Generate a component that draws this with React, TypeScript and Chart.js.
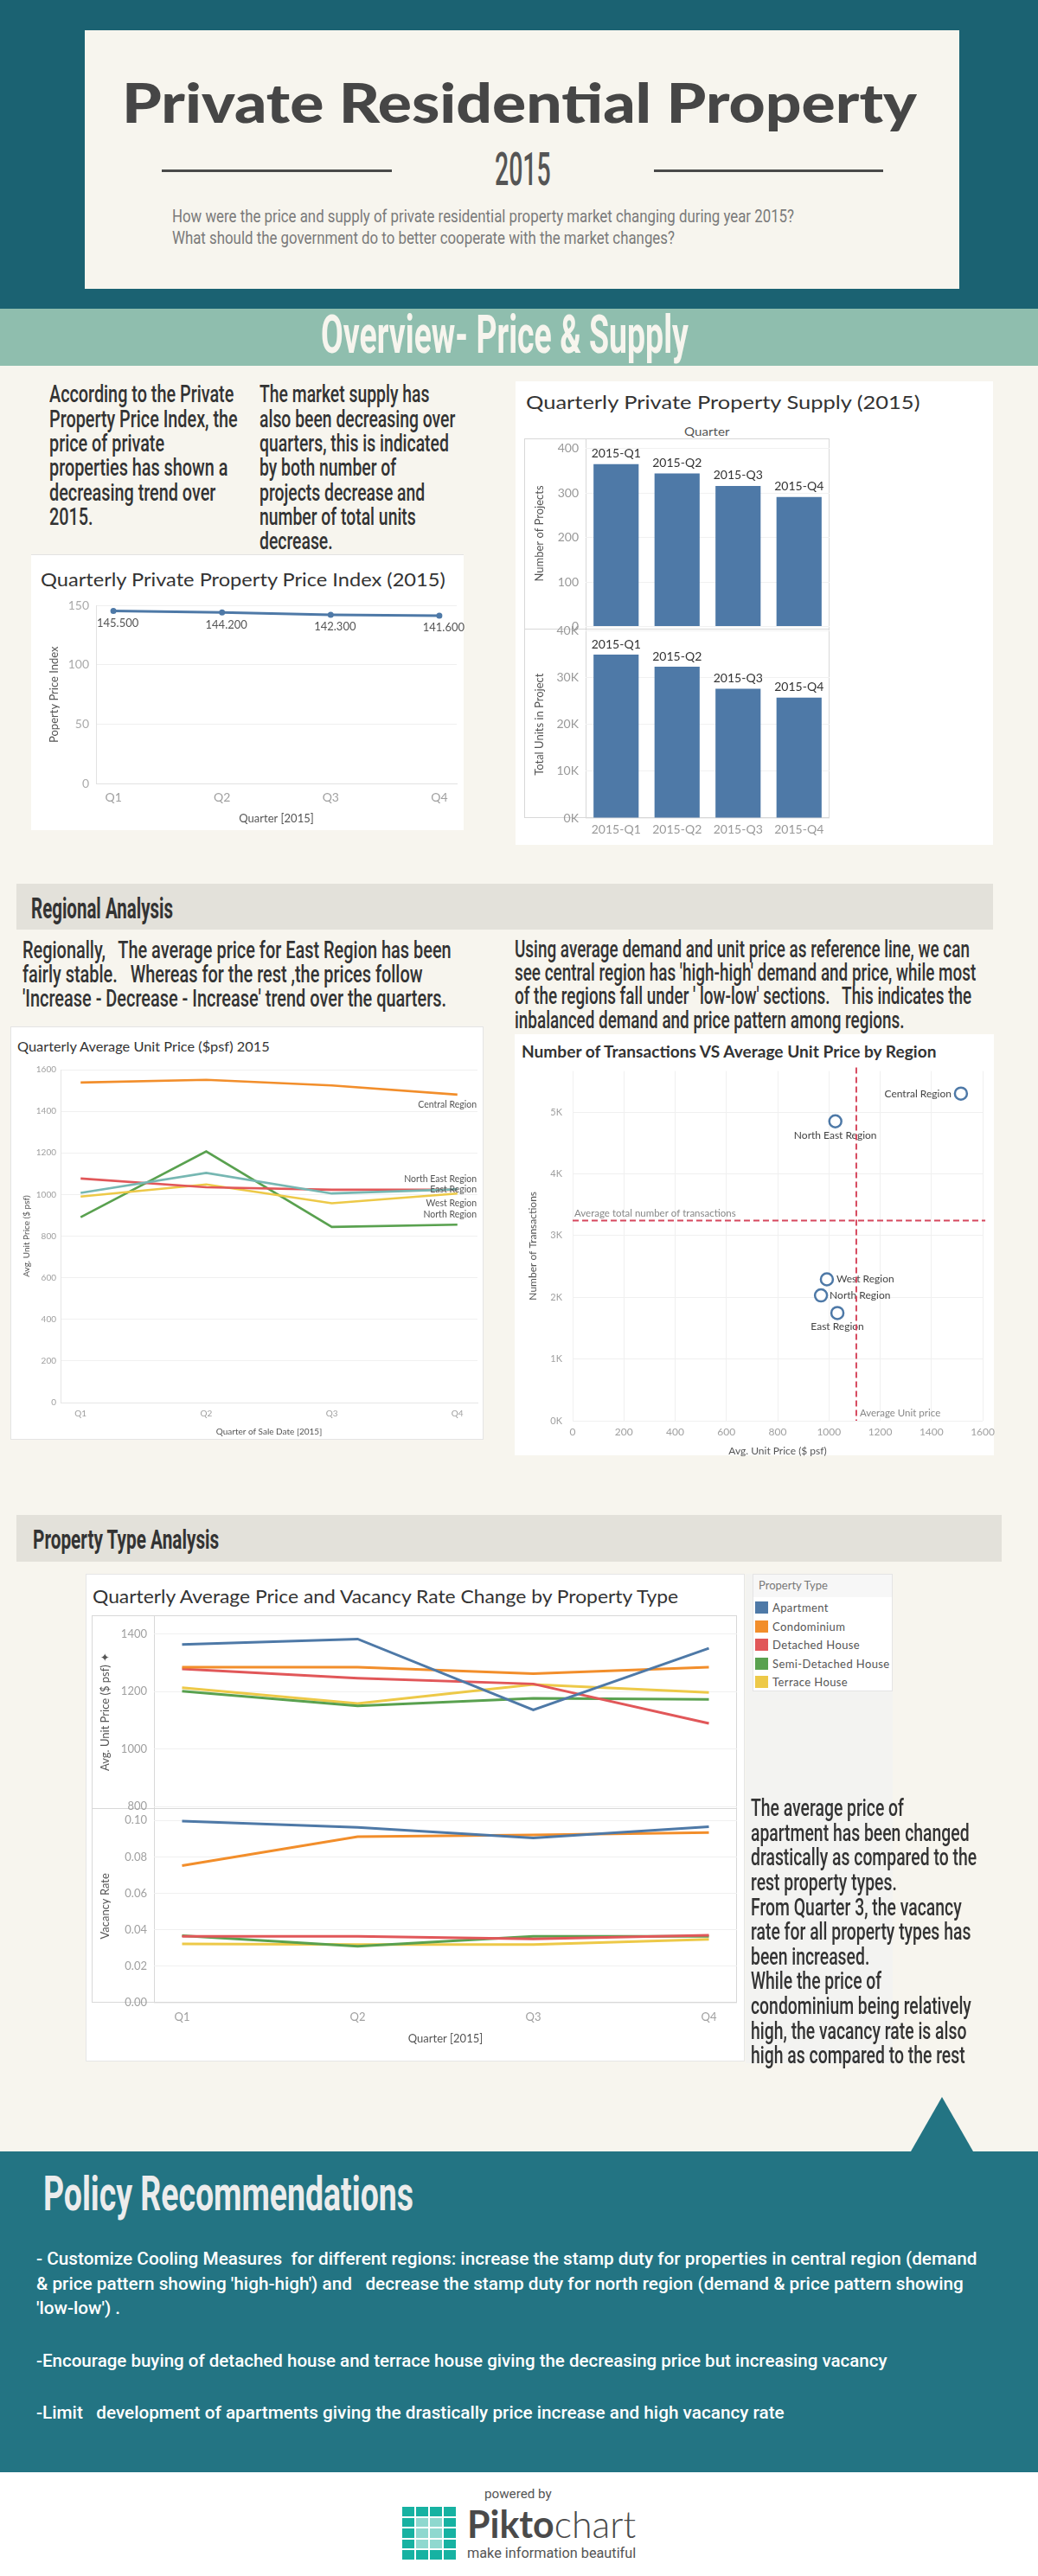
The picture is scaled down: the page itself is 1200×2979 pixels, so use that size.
import React, { useEffect, useLayoutEffect, useRef, useState } from 'react';
import { Chart, registerables } from 'chart.js';
Chart.register(...registerables);

// ---------------- DATA ----------------
const quarters = ['Q1', 'Q2', 'Q3', 'Q4'];
const priceIndex = [145.5, 144.2, 142.3, 141.6];
const priceIndexTicks = [0, 50, 100, 150];

const supplyQuarters = ['2015-Q1', '2015-Q2', '2015-Q3', '2015-Q4'];
const projectCounts = [365, 344, 316, 291];
const totalUnits = [34900, 32300, 27600, 25700];
const projectTicks = [0, 100, 200, 300, 400];
const unitTicks = [0, 10000, 20000, 30000, 40000];

const regionNames = ['Central Region', 'North East Region', 'East Region', 'West Region', 'North Region'];
const regionColors = ['#f28e2b', '#76b7b2', '#e15759', '#edc948', '#59a14f'];
const centralPrice = [1538, 1551, 1524, 1480];
const northEastPrice = [1008, 1104, 1005, 1025];
const eastPrice = [1077, 1035, 1023, 1023];
const westPrice = [990, 1048, 958, 1005];
const northPrice = [891, 1207, 844, 855];
const regionSeries = [centralPrice, northEastPrice, eastPrice, westPrice, northPrice];
const regionPriceTicks = [0, 200, 400, 600, 800, 1000, 1200, 1400, 1600];

const scatterRegions = ['Central Region', 'North East Region', 'West Region', 'North Region', 'East Region'];
const scatterAvgPrice = [1515, 1025, 992, 969, 1033];
const scatterTransactions = [5300, 4850, 2290, 2030, 1745];
const transactionTicks = [0, 1000, 2000, 3000, 4000, 5000];
const scatterPriceTicks = [0, 200, 400, 600, 800, 1000, 1200, 1400, 1600];

const propertyTypes = ['Apartment', 'Condominium', 'Detached House', 'Semi-Detached House', 'Terrace House'];
const typeColors = ['#4e79a7', '#f28e2b', '#e15759', '#59a14f', '#edc948'];
const apartmentPrice = [1363, 1382, 1136, 1350];
const condoPrice = [1284, 1284, 1262, 1284];
const detachedPrice = [1278, 1246, 1226, 1089];
const semiPrice = [1201, 1150, 1176, 1172];
const terracePrice = [1213, 1158, 1224, 1196];
const typePrices = [apartmentPrice, condoPrice, detachedPrice, semiPrice, terracePrice];
const apartmentVacancy = [0.0996, 0.0962, 0.0904, 0.0966];
const condoVacancy = [0.0752, 0.0911, 0.0921, 0.0933];
const detachedVacancy = [0.0364, 0.0364, 0.035, 0.037];
const semiVacancy = [0.0368, 0.031, 0.0364, 0.0364];
const terraceVacancy = [0.0323, 0.0319, 0.0319, 0.0348];
const typeVacancies = [apartmentVacancy, condoVacancy, detachedVacancy, semiVacancy, terraceVacancy];
const typePriceTicks = [800, 1000, 1200, 1400];
const vacancyTicks = [0, 0.02, 0.04, 0.06, 0.08, 0.1];

// ---------------- STYLE ----------------
const BLUE = '#4e79a7';
const FONT = 'Lato, "Open Sans", sans-serif';
const COND = 'Roboto, "Liberation Sans", sans-serif';
const X_MIN = 0.84;
const X_MAX = 4.16;
Chart.defaults.font.family = FONT;

const mean = (a: number[]) => a.reduce((s, v) => s + v, 0) / a.length;

function forceTicks(values: number[]) {
  return (s: any) => {
    s.ticks = values.map((v) => ({ value: v }));
  };
}

function quarterAxis(size: number, pad: number, title: any, borderColor?: string) {
  return {
    type: 'linear',
    min: X_MIN,
    max: X_MAX,
    afterBuildTicks: forceTicks(quarters.map((_, i) => i + 1)),
    ticks: {
      callback: (v: number) => quarters[Math.round(v) - 1] ?? '',
      color: '#a0a0a0',
      font: { size },
      padding: pad,
      maxRotation: 0,
      autoSkip: false,
    },
    grid: { display: false, drawTicks: false },
    border: borderColor ? { display: true, color: borderColor } : { display: false },
    title,
  };
}

type Plot = { l: number; t: number; r: number; b: number };

function ChartCanvas({ plot, yW, xH, build }: { plot: Plot; yW: number; xH: number; build: () => any }) {
  const ref = useRef<HTMLCanvasElement>(null);
  const P = 14;
  const left = plot.l - yW;
  const top = plot.t - P;
  const width = Math.round(plot.r + P - left);
  const height = Math.round(plot.b + (xH > 0 ? xH : P) - top);
  useEffect(() => {
    const cfg = build();
    cfg.options = cfg.options || {};
    cfg.options.animation = false;
    cfg.options.responsive = false;
    cfg.options.maintainAspectRatio = false;
    cfg.options.layout = { padding: { top: P, right: P, left: 0, bottom: xH > 0 ? 0 : P } };
    cfg.options.plugins = { ...(cfg.options.plugins || {}), legend: { display: false }, tooltip: { enabled: false } };
    const sc = cfg.options.scales;
    sc.y.afterFit = (s: any) => {
      s.width = yW;
    };
    if (xH > 0) {
      sc.x.afterFit = (s: any) => {
        s.height = xH;
      };
    }
    const chart = new Chart(ref.current as HTMLCanvasElement, cfg);
    return () => chart.destroy();
  }, []);
  return (
    <canvas
      ref={ref}
      width={width}
      height={height}
      style={{ position: 'absolute', left, top, width, height }}
    />
  );
}

function FitText({
  x, y, w, size, lh, lines, color = '#333', weight = 400, family = COND, align = 'left',
}: {
  x: number; y: number; w: number; size: number; lh?: number; lines: React.ReactNode[];
  color?: string; weight?: number; family?: string; align?: 'left' | 'center';
}) {
  const ref = useRef<HTMLDivElement>(null);
  const [m, setM] = useState<{ s: number; W: number } | null>(null);
  useLayoutEffect(() => {
    const el = ref.current;
    if (!el) return;
    let W = 0;
    el.querySelectorAll<HTMLElement>('span.ln').forEach((s) => {
      W = Math.max(W, s.offsetWidth);
    });
    setM({ s: W ? w / W : 1, W });
  }, []);
  const L = lh ?? Math.round(size * 1.2);
  const s = m ? m.s : 1;
  const W = m ? m.W : 0;
  const left = align === 'center' ? x - (W * s) / 2 : x;
  return (
    <div
      ref={ref}
      style={{
        position: 'absolute', left, top: y - L / 2, transform: `scaleX(${s})`, transformOrigin: 'left top',
        fontFamily: family, fontSize: size, fontWeight: weight, color, lineHeight: `${L}px`,
        whiteSpace: 'pre', visibility: m ? 'visible' : 'hidden',
      }}
    >
      {lines.map((t, i) => (
        <div key={i}>
          <span className="ln">{t}</span>
        </div>
      ))}
    </div>
  );
}

function Rect({ x, y, w, h, bg, style }: { x: number; y: number; w: number; h: number; bg?: string; style?: any }) {
  return <div style={{ position: 'absolute', left: x, top: y, width: w, height: h, background: bg, boxSizing: 'border-box', ...style }} />;
}

// ---------------- CHART BUILDERS ----------------
function buildPriceIndex() {
  const valueLabels = {
    id: 'valueLabels',
    afterDatasetsDraw(chart: any) {
      const ctx = chart.ctx;
      const meta = chart.getDatasetMeta(0);
      ctx.save();
      ctx.font = `13px ${FONT}`;
      ctx.fillStyle = '#555';
      ctx.textAlign = 'center';
      ctx.textBaseline = 'middle';
      meta.data.forEach((pt: any, i: number) => ctx.fillText(priceIndex[i].toFixed(3), pt.x + 5, pt.y + 14));
      ctx.restore();
    },
  };
  return {
    type: 'line',
    data: {
      datasets: [{
        data: priceIndex.map((v, i) => ({ x: i + 1, y: v })),
        borderColor: BLUE, backgroundColor: BLUE, borderWidth: 3, pointRadius: 3.5,
        pointBackgroundColor: BLUE, pointBorderWidth: 0, tension: 0,
      }],
    },
    options: {
      scales: {
        x: quarterAxis(14, 8, { display: true, text: 'Quarter [2015]', color: '#555', font: { size: 13 }, padding: { bottom: 5 } }, '#e2e2e2'),
        y: {
          type: 'linear', min: 0, max: 150,
          afterBuildTicks: forceTicks(priceIndexTicks),
          ticks: { color: '#aaa', font: { size: 14 }, padding: 8, callback: (v: number) => String(v) },
          grid: { color: '#efefef', drawTicks: false },
          border: { display: true, color: '#e2e2e2' },
          title: { display: true, text: 'Poperty Price Index', color: '#555', font: { size: 13 }, padding: { top: 15 } },
        },
      },
    },
    plugins: [valueLabels],
  };
}

const barLabels = {
  id: 'barLabels',
  afterDatasetsDraw(chart: any) {
    const ctx = chart.ctx;
    const meta = chart.getDatasetMeta(0);
    ctx.save();
    ctx.font = `14px ${FONT}`;
    ctx.fillStyle = '#333';
    ctx.textAlign = 'center';
    ctx.textBaseline = 'middle';
    meta.data.forEach((b: any, i: number) => ctx.fillText(supplyQuarters[i], b.x, b.y - 12));
    ctx.restore();
  },
};

function buildSupply(values: number[], max: number, ticks: number[], title: string, showX: boolean, fmt: (v: number) => string) {
  return {
    type: 'bar',
    data: {
      labels: supplyQuarters,
      datasets: [{ data: values, backgroundColor: BLUE, barPercentage: 0.74, categoryPercentage: 1 }],
    },
    options: {
      scales: {
        x: showX
          ? { type: 'category', offset: true, ticks: { color: '#999', font: { size: 14 }, padding: 5 }, grid: { display: false, drawTicks: false }, border: { display: false } }
          : { type: 'category', offset: true, display: false },
        y: {
          type: 'linear', min: 0, max,
          afterBuildTicks: forceTicks(ticks),
          ticks: { color: '#999', font: { size: 14 }, padding: 8, callback: (v: number) => fmt(v) },
          grid: { color: '#f1f1f1', drawTicks: false },
          border: { display: false },
          title: { display: true, text: title, color: '#555', font: { size: 13 }, padding: { top: 10 } },
        },
      },
    },
    plugins: [barLabels],
  };
}

function buildRegional() {
  const shift: Record<string, number> = {
    'Central Region': 11.5, 'North East Region': -12, 'East Region': 0, 'West Region': 11.5, 'North Region': -11.5,
  };
  const endLabels = {
    id: 'endLabels',
    afterDatasetsDraw(chart: any) {
      const ctx = chart.ctx;
      ctx.save();
      ctx.font = `10.5px ${FONT}`;
      ctx.fillStyle = '#555';
      ctx.textAlign = 'right';
      ctx.textBaseline = 'middle';
      chart.data.datasets.forEach((ds: any, i: number) => {
        const meta = chart.getDatasetMeta(i);
        const last = meta.data[meta.data.length - 1];
        ctx.fillText(ds.label, chart.chartArea.right - 1, last.y + (shift[ds.label] ?? 0));
      });
      ctx.restore();
    },
  };
  return {
    type: 'line',
    data: {
      datasets: regionNames.map((name, k) => ({
        label: name,
        data: regionSeries[k].map((v, i) => ({ x: i + 1, y: v })),
        borderColor: regionColors[k], backgroundColor: regionColors[k], borderWidth: 2.6, pointRadius: 0, tension: 0,
      })),
    },
    options: {
      scales: {
        x: quarterAxis(10, 7, { display: true, text: 'Quarter of Sale Date [2015]', color: '#555', font: { size: 10 }, padding: { bottom: 3 } }, '#e6e6e6'),
        y: {
          type: 'linear', min: 0, max: 1600,
          afterBuildTicks: forceTicks(regionPriceTicks),
          ticks: { color: '#a0a0a0', font: { size: 10 }, padding: 5, callback: (v: number) => String(v) },
          grid: { color: '#f0f0f0', drawTicks: false },
          border: { display: true, color: '#e6e6e6' },
          title: { display: true, text: 'Avg. Unit Price ($ psf)', color: '#555', font: { size: 10 }, padding: { top: 10 } },
        },
      },
    },
    plugins: [endLabels],
  };
}

function buildScatter() {
  const avgPrice = mean(scatterAvgPrice);
  const avgTrans = mean(scatterTransactions);
  const place: Record<string, [CanvasTextAlign, number, number]> = {
    'Central Region': ['right', -11, 0],
    'North East Region': ['center', 0, 16],
    'West Region': ['left', 11, 0],
    'North Region': ['left', 10, 0],
    'East Region': ['center', 0, 16],
  };
  const overlay = {
    id: 'overlay',
    afterDatasetsDraw(chart: any) {
      const ctx = chart.ctx;
      const { left, right, top, bottom } = chart.chartArea;
      const xs = chart.scales.x;
      const ys = chart.scales.y;
      const meta = chart.getDatasetMeta(0);
      ctx.save();
      ctx.font = `12px ${FONT}`;
      ctx.fillStyle = '#444';
      ctx.textBaseline = 'middle';
      meta.data.forEach((pt: any, i: number) => {
        const [al, dx, dy] = place[scatterRegions[i]];
        ctx.textAlign = al;
        ctx.fillText(scatterRegions[i], pt.x + dx, pt.y + dy);
      });
      const px = xs.getPixelForValue(avgPrice);
      const py = ys.getPixelForValue(avgTrans);
      ctx.fillStyle = '#888';
      ctx.font = `11.5px ${FONT}`;
      ctx.textAlign = 'left';
      ctx.fillText('Average total number of transactions', left + 2, py - 8);
      ctx.fillText('Average Unit price', px + 4, bottom - 9);
      ctx.strokeStyle = '#d6485e';
      ctx.lineWidth = 2;
      ctx.setLineDash([7, 4]);
      ctx.beginPath();
      ctx.moveTo(left, py);
      ctx.lineTo(right + 3, py);
      ctx.moveTo(px, top - 4);
      ctx.lineTo(px, bottom);
      ctx.stroke();
      ctx.restore();
    },
  };
  return {
    type: 'scatter',
    data: {
      datasets: [{
        data: scatterAvgPrice.map((p, i) => ({ x: p, y: scatterTransactions[i] })),
        pointRadius: 7, pointBorderWidth: 2.5, borderColor: BLUE, pointBorderColor: BLUE,
        backgroundColor: 'rgba(255,255,255,0.9)', pointBackgroundColor: 'rgba(255,255,255,0.9)',
      }],
    },
    options: {
      scales: {
        x: {
          type: 'linear', min: 0, max: 1600,
          afterBuildTicks: forceTicks(scatterPriceTicks),
          ticks: { color: '#a0a0a0', font: { size: 12 }, padding: 6, callback: (v: number) => String(v) },
          grid: { color: '#f0f0f0', drawTicks: false },
          border: { display: false },
          title: { display: true, text: 'Avg. Unit Price ($ psf)', color: '#555', font: { size: 12 }, padding: { bottom: 1 } },
        },
        y: {
          type: 'linear', min: 0, max: 5665,
          afterBuildTicks: forceTicks(transactionTicks),
          ticks: { color: '#a0a0a0', font: { size: 11 }, padding: 12, callback: (v: number) => `${v / 1000}K` },
          grid: { color: '#f0f0f0', drawTicks: false },
          border: { display: false },
          title: { display: true, text: 'Number of Transactions', color: '#555', font: { size: 12 }, padding: { top: 2 } },
        },
      },
    },
    plugins: [overlay],
  };
}

function buildType(series: number[][], min: number, max: number, ticks: number[], title: string, showX: boolean, fmt: (v: number) => string) {
  const xAxis = showX
    ? quarterAxis(13, 9, { display: true, text: 'Quarter [2015]', color: '#555', font: { size: 13 }, padding: { bottom: 18 } })
    : { ...quarterAxis(13, 9, { display: false }), display: false };
  return {
    type: 'line',
    data: {
      datasets: propertyTypes.map((name, k) => ({
        label: name,
        data: series[k].map((v, i) => ({ x: i + 1, y: v })),
        borderColor: typeColors[k], backgroundColor: typeColors[k], borderWidth: 3, pointRadius: 0, tension: 0,
      })),
    },
    options: {
      scales: {
        x: xAxis,
        y: {
          type: 'linear', min, max,
          afterBuildTicks: forceTicks(ticks),
          ticks: { color: '#a0a0a0', font: { size: 13 }, padding: 8, callback: (v: number) => fmt(v) },
          grid: { color: '#f0f0f0', drawTicks: false },
          border: { display: false },
          title: { display: true, text: title, color: '#555', font: { size: 13 }, padding: { top: 8 } },
        },
      },
    },
  };
}

// ---------------- APP ----------------
const HEADER_TEAL = '#1b6272';
const POLICY_TEAL = '#237483';
const CREAM = '#f7f5ee';
const BAND = '#e3e1da';

function Legend() {
  return (
    <>
      <Rect x={870} y={1820} w={162} h={136} bg="#fff" style={{ border: '1px solid #e4e4e4' }} />
      <Rect x={871} y={1821} w={160} h={26} bg="#f7f7f7" />
      <div style={{ position: 'absolute', left: 877, top: 1825, fontFamily: FONT, fontSize: 13, color: '#777', lineHeight: '17px' }}>Property Type</div>
      {propertyTypes.map((t, i) => (
        <React.Fragment key={t}>
          <Rect x={873} y={1852 + i * 21.5} w={15} h={14} bg={typeColors[i]} />
          <div style={{ position: 'absolute', left: 893, top: 1850 + i * 21.5, fontFamily: FONT, fontSize: 13, color: '#555', lineHeight: '18px', letterSpacing: 0.4 }}>{t}</div>
        </React.Fragment>
      ))}
    </>
  );
}

function Logo() {
  const cells: React.ReactNode[] = [];
  for (let r = 0; r < 5; r++) {
    for (let c = 0; c < 4; c++) {
      const inner = (c === 1 || c === 2) && r > 0 && r < 4;
      cells.push(
        <Rect key={`${r}-${c}`} x={465 + c * 16} y={2899 + r * 12.6} w={14} h={10.6} bg={inner ? '#8fd8cf' : '#17b2a2'} />,
      );
    }
  }
  return <>{cells}</>;
}

export default function App() {
  useEffect(() => {
    document.body.style.margin = '0';
  }, []);
  return (
    <div style={{ position: 'absolute', left: 0, top: 0, width: 1200, height: 2979, background: CREAM, overflow: 'hidden' }}>
      {/* Header */}
      <Rect x={0} y={0} w={1200} h={357} bg={HEADER_TEAL} />
      <Rect x={98} y={35} w={1011} h={299} bg={CREAM} />
      <FitText x={141} y={117.5} w={919} size={62} lh={62} weight={900} family={FONT} color="#464646" lines={['Private Residential Property']} />
      <FitText x={604.5} y={196} w={65} size={53} lh={53} weight={500} color="#555" align="center" lines={['2015']} />
      <Rect x={187} y={196} w={266} h={3} bg="#4a4a4a" />
      <Rect x={756} y={196} w={265} h={3} bg="#4a4a4a" />
      <FitText x={199} y={250.5} w={719} size={21} lh={25} color="#7a7a7a" lines={[
        'How were the price and supply of private residential property market changing during year 2015?',
        'What should the government do to better cooperate with the market changes?',
      ]} />

      {/* Overview band */}
      <Rect x={0} y={357} w={1200} h={66} bg="#8fbeae" />
      <FitText x={583} y={387} w={425} size={62} lh={62} weight={700} color={CREAM} align="center" lines={['Overview- Price & Supply']} />

      <FitText x={57} y={456.5} w={218} size={27} lh={28.3} weight={500} color="#333" lines={[
        'According to the Private', 'Property Price Index, the', 'price of private', 'properties has shown a', 'decreasing trend over', '2015.',
      ]} />
      <FitText x={300} y={456.5} w={226} size={27} lh={28.3} weight={500} color="#333" lines={[
        'The market supply has', 'also been decreasing over', 'quarters, this is indicated', 'by both number of', 'projects decrease and', 'number of total units', 'decrease.',
      ]} />

      {/* Price index card */}
      <Rect x={36} y={641} w={500} h={319} bg="#fff" style={{ borderTop: '1px solid #e2e2e2' }} />
      <FitText x={47} y={669} w={468} size={21} color="#333" family={FONT} lines={['Quarterly Private Property Price Index (2015)']} />
      <ChartCanvas plot={{ l: 111, t: 698, r: 528, b: 906 }} yW={71} xH={54} build={buildPriceIndex} />

      {/* Supply card */}
      <Rect x={596} y={441} w={552} h={536} bg="#fff" />
      <FitText x={608} y={465} w={455} size={22} color="#333" family={FONT} lines={['Quarterly Private Property Supply (2015)']} />
      <FitText x={817} y={498} w={52} size={14} color="#555" family={FONT} align="center" lines={['Quarter']} />
      <Rect x={606} y={507} w={353} h={439} style={{ border: '1px solid #d8d8d8' }} />
      <Rect x={677} y={507} w={1} h={439} bg="#d8d8d8" />
      <Rect x={606} y={727} w={353} h={1} bg="#d8d8d8" />
      <ChartCanvas plot={{ l: 677, t: 507, r: 959, b: 727 }} yW={71} xH={0}
        build={() => buildSupply(projectCounts, 418, projectTicks, 'Number of Projects', false, (v) => String(v))} />
      <ChartCanvas plot={{ l: 677, t: 727, r: 959, b: 946 }} yW={71} xH={26}
        build={() => buildSupply(totalUnits, 40000, unitTicks, 'Total Units in Project', true, (v) => `${v / 1000}K`)} />

      {/* Regional analysis */}
      <Rect x={19} y={1022} w={1129} h={53} bg={BAND} />
      <FitText x={36} y={1051} w={164} size={33} lh={36} weight={700} color="#333" lines={['Regional Analysis']} />
      <FitText x={26} y={1098.7} w={496} size={27} lh={28.2} weight={500} color="#333" lines={[
        'Regionally,   The average price for East Region has been',
        'fairly stable.   Whereas for the rest ,the prices follow',
        "'Increase - Decrease - Increase' trend over the quarters.",
      ]} />
      <FitText x={595} y={1098.5} w={533} size={27} lh={27.2} weight={500} color="#333" lines={[
        'Using average demand and unit price as reference line, we can',
        "see central region has 'high-high' demand and price, while most",
        "of the regions fall under ' low-low' sections.   This indicates the",
        'inbalanced demand and price pattern among regions.',
      ]} />

      <Rect x={12} y={1187} w={547} h={478} bg="#fff" style={{ border: '1px solid #e4e4e4' }} />
      <FitText x={20} y={1210} w={292} size={15} color="#333" family={FONT} lines={['Quarterly Average Unit Price ($psf) 2015']} />
      <ChartCanvas plot={{ l: 70, t: 1237, r: 552, b: 1622 }} yW={55} xH={43} build={buildRegional} />

      <Rect x={595} y={1196} w={554} h={487} bg="#fff" />
      <FitText x={602.5} y={1215.6} w={479} size={18} weight={700} color="#333" family={FONT} lines={['Number of Transactions VS Average Unit Price by Region']} />
      <ChartCanvas plot={{ l: 662, t: 1234, r: 1142, b: 1643 }} yW={55} xH={43} build={buildScatter} />

      {/* Property type analysis */}
      <Rect x={19} y={1752} w={1139} h={54} bg={BAND} />
      <FitText x={38} y={1781} w={215} size={31} lh={34} weight={700} color="#333" lines={['Property Type Analysis']} />
      <Rect x={862} y={1820} w={170} h={566} bg="#f3f3f1" />
      <Rect x={99} y={1820} w={762} h={564} bg="#fff" style={{ border: '1px solid #e6e6e6' }} />
      <FitText x={107} y={1845} w={677} size={21} color="#333" family={FONT} lines={['Quarterly Average Price and Vacancy Rate Change by Property Type']} />
      <Rect x={106} y={1868} w={746} h={448} style={{ border: '1px solid #d8d8d8' }} />
      <Rect x={178} y={1868} w={1} h={448} bg="#d8d8d8" />
      <Rect x={106} y={2091} w={746} h={1} bg="#d8d8d8" />
      <ChartCanvas plot={{ l: 178, t: 1868, r: 852, b: 2091 }} yW={72} xH={0}
        build={() => buildType(typePrices, 800, 1459, typePriceTicks, 'Avg. Unit Price ($ psf) \u2726', false, (v) => String(v))} />
      <ChartCanvas plot={{ l: 178, t: 2091, r: 852, b: 2316 }} yW={72} xH={68}
        build={() => buildType(typeVacancies, 0, 0.1059, vacancyTicks, 'Vacancy Rate', true, (v) => v.toFixed(2))} />
      <Legend />
      <FitText x={868} y={2091.5} w={261} size={28} lh={28.6} weight={500} color="#333" lines={[
        'The average price of', 'apartment has been changed', 'drastically as compared to the', 'rest property types.',
        'From Quarter 3, the vacancy', 'rate for all property types has', 'been increased.', 'While the price of',
        'condominium being relatively', 'high, the vacancy rate is also', 'high as compared to the rest',
      ]} />

      {/* Policy */}
      <div style={{ position: 'absolute', left: 1053, top: 2425, width: 0, height: 0, borderLeft: '36.5px solid transparent', borderRight: '36.5px solid transparent', borderBottom: `63px solid ${POLICY_TEAL}` }} />
      <Rect x={0} y={2488} w={1200} h={371} bg={POLICY_TEAL} />
      <FitText x={50} y={2537} w={428} size={56} lh={58} weight={700} color="#ececec" lines={['Policy Recommendations']} />
      <FitText x={42} y={2612.5} w={1087} size={21} lh={28.2} weight={500} color="#fff" lines={[
        '- Customize Cooling Measures  for different regions: increase the stamp duty for properties in central region (demand',
        "& price pattern showing 'high-high') and   decrease the stamp duty for north region (demand & price pattern showing",
        "'low-low') .",
      ]} />
      <FitText x={42} y={2730} w={983} size={21} lh={28} weight={500} color="#fff" lines={[
        '-Encourage buying of detached house and terrace house giving the decreasing price but increasing vacancy',
      ]} />
      <FitText x={42} y={2790} w={865} size={21} lh={28} weight={500} color="#fff" lines={[
        '-Limit   development of apartments giving the drastically price increase and high vacancy rate',
      ]} />

      {/* Footer */}
      <Rect x={0} y={2859} w={1200} h={120} bg="#fff" />
      <FitText x={599} y={2884} w={78} size={15} color="#555" align="center" lines={['powered by']} />
      <Logo />
      <FitText x={540} y={2918} w={195} size={44} lh={46} color="#4a4a4a" family={FONT} lines={[
        <><span style={{ fontWeight: 700 }}>Pikto</span><span style={{ fontWeight: 300 }}>chart</span></>,
      ]} />
      <FitText x={540} y={2952} w={195} size={17} color="#555" lines={['make information beautiful']} />
    </div>
  );
}
